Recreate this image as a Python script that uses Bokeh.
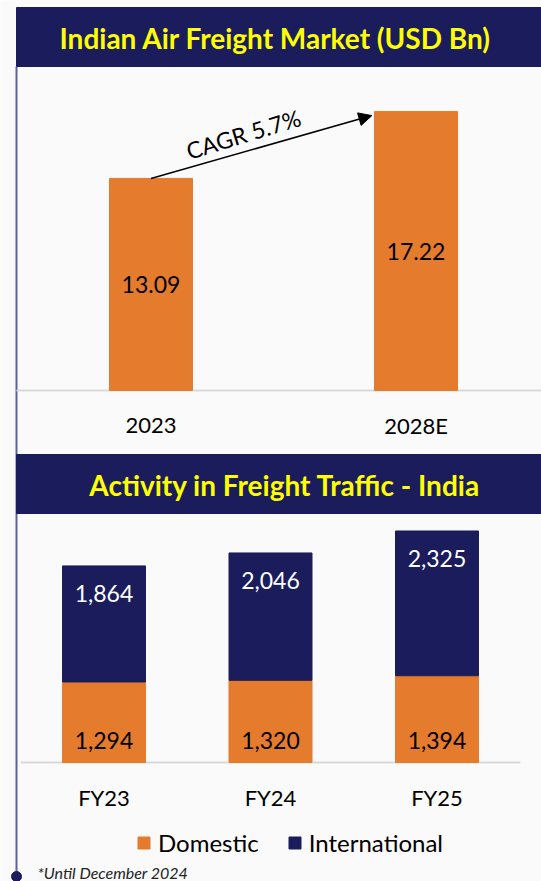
from bokeh.plotting import figure
from bokeh.models import Range1d, Arrow, NormalHead, Legend, LegendItem, ColumnDataSource
from bokeh.core.properties import value
from bokeh.embed import file_html
from bokeh.resources import INLINE
import math

# ---------------- data ----------------
market_title = "Indian Air Freight Market (USD Bn)"
market_years = ["2023", "2028E"]
market_values = [13.09, 17.22]
cagr_label = "CAGR 5.7%"

traffic_title = "Activity in Freight Traffic - India"
traffic_years = ["FY23", "FY24", "FY25"]
domestic = [1294, 1320, 1394]
international = [1864, 2046, 2325]
series_names = ["Domestic", "International"]
footnote = "*Until December 2024"

# ---------------- style / layout ----------------
W, H = 541, 881
ORANGE = "#e57b2c"
NAVY = "#1a1c5c"
YELLOW = "#ffff00"
BG = "#fafafa"
GRID = "#d9d9d9"
FONT_NAME = "Lato"
FONT = value(FONT_NAME)
LBL = "23px"

c1_x0, c1_dx, c1_base, c1_top, c1_ymax = 150.5, 265.0, 390.0, 66.0, 20.0
c2_x0, c2_dx, c2_base, c2_top, c2_ymax = 103.5, 166.5, 762.0, 513.0, 4000.0


def xr(x0, dx):
    return Range1d(start=-x0 / dx, end=(W - x0) / dx)


def yr(base, top, ymax):
    k = (base - top) / ymax
    return Range1d(start=-(H - base) / k, end=base / k)


p = figure(width=W, height=H, output_backend="svg", toolbar_location=None,
           x_range=Range1d(0, W), y_range=Range1d(H, 0),
           min_border=0, min_border_left=0, min_border_right=0,
           min_border_top=0, min_border_bottom=0)
p.axis.visible = False
p.grid.visible = False
p.outline_line_color = None
p.background_fill_color = BG
p.border_fill_color = BG

p.extra_x_ranges = {"x1": xr(c1_x0, c1_dx), "x2": xr(c2_x0, c2_dx)}
p.extra_y_ranges = {"y1": yr(c1_base, c1_top, c1_ymax), "y2": yr(c2_base, c2_top, c2_ymax)}

# left timeline line and dot
p.segment(x0=[16], y0=[66], x1=[16], y1=[876], line_color="#5a6396", line_width=2)
p.scatter(x=[16], y=[876], size=10, color=NAVY)

# headers
p.quad(left=[16, 16], right=[W, W], top=[7, 454], bottom=[66, 513], color=NAVY)
p.text(x=[275, 284.5], y=[37, 484], text=[market_title, traffic_title],
       text_color=YELLOW, text_font=FONT, text_font_style="bold",
       text_font_size="28px", text_align="center", text_baseline="middle")

# ---------------- chart 1 ----------------
n1 = len(market_years)
x1 = list(range(n1))
bw1 = 83.0 / c1_dx
p.segment(x0=[16], x1=[W], y0=[0], y1=[0], line_color=GRID, line_width=2,
          y_range_name="y1")
p.vbar(x=x1, top=market_values, width=bw1, color=ORANGE,
       x_range_name="x1", y_range_name="y1")
p.text(x=x1, y=[v / 2 for v in market_values], text=[f"{v:.2f}" for v in market_values],
       text_color="black", text_font=FONT, text_font_size=LBL,
       text_align="center", text_baseline="middle",
       x_range_name="x1", y_range_name="y1")
p.text(x=x1, y=[0] * n1, text=market_years, y_offset=35,
       text_color="black", text_font=FONT, text_font_size="22px",
       text_align="center", text_baseline="middle",
       x_range_name="x1", y_range_name="y1")

# CAGR arrow
ax0, ay0 = x1[0], market_values[0]
ax1, ay1 = x1[1] - bw1 / 2 - 0.01, market_values[1] - 0.25
arrow = Arrow(end=NormalHead(size=13, fill_color="black", line_color="black"),
              x_start=ax0, y_start=ay0, x_end=ax1, y_end=ay1,
              line_color="black", line_width=1.5,
              x_range_name="x1", y_range_name="y1")
p.add_layout(arrow)
k1 = (c1_base - c1_top) / c1_ymax
ang = math.atan2((ay1 - ay0) * k1, (ax1 - ax0) * c1_dx)
mx, my = (ax0 + ax1) / 2, (ay0 + ay1) / 2
p.text(x=[mx - 18 / c1_dx], y=[my + 13 / k1], text=[cagr_label], angle=ang + 0.02,
       text_color="black", text_font=FONT, text_font_size=LBL,
       text_align="center", text_baseline="middle",
       x_range_name="x1", y_range_name="y1")

# ---------------- chart 2 ----------------
n2 = len(traffic_years)
x2 = list(range(n2))
bw2 = 83.0 / c2_dx
p.segment(x0=[-0.5], x1=[n2 - 0.5], y0=[0], y1=[0], line_color=GRID, line_width=2,
          x_range_name="x2", y_range_name="y2")
src = ColumnDataSource(dict(x=x2, Domestic=domestic, International=international))
rs = p.vbar_stack(series_names, x="x", width=bw2, color=[ORANGE, NAVY], source=src,
                  x_range_name="x2", y_range_name="y2")
totals = [d + i for d, i in zip(domestic, international)]
p.text(x=x2, y=[0] * n2, text=[f"{v:,}" for v in domestic], y_offset=-22,
       text_color="black", text_font=FONT, text_font_size=LBL,
       text_align="center", text_baseline="middle",
       x_range_name="x2", y_range_name="y2")
p.text(x=x2, y=totals, text=[f"{v:,}" for v in international], y_offset=28,
       text_color="white", text_font=FONT, text_font_size=LBL,
       text_align="center", text_baseline="middle",
       x_range_name="x2", y_range_name="y2")
p.text(x=x2, y=[0] * n2, text=traffic_years, y_offset=35,
       text_color="black", text_font=FONT, text_font_size="22px",
       text_align="center", text_baseline="middle",
       x_range_name="x2", y_range_name="y2")

legend = Legend(items=[LegendItem(label=series_names[i], renderers=[rs[i]]) for i in range(2)],
                orientation="horizontal", location=(136, 24),
                padding=0, margin=0, spacing=28, label_standoff=7,
                glyph_width=15, glyph_height=15,
                label_text_font=FONT_NAME, label_text_font_size="24px",
                label_text_color="black",
                background_fill_alpha=0, border_line_alpha=0)
p.add_layout(legend)

p.text(x=[37], y=[872], text=[footnote], text_color="#222222", text_font=FONT,
       text_font_style="italic", text_font_size="16px",
       text_align="left", text_baseline="middle")

open("out.html", "w").write(file_html(p, INLINE))
